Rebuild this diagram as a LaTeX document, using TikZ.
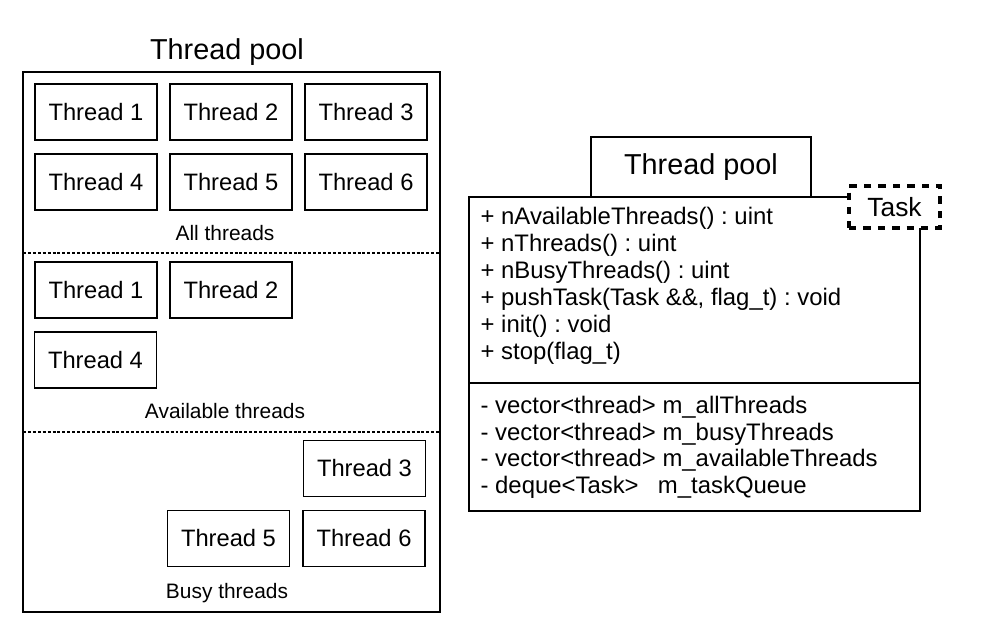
\documentclass[tikz,border=0pt]{standalone}
\usepackage{fontspec}
\setmainfont{Liberation Sans}
\usetikzlibrary{arrows.meta}
\frenchspacing

\begin{document}
\begin{tikzpicture}[x=0.02cm,y=-0.02cm,line width=0.7pt,
  threadbox/.style={draw,line width=0.7pt,minimum width=2.44cm,minimum height=1.12cm,
    inner sep=0pt,font=\fontsize{13.5}{16}\selectfont},
  grouplabel/.style={anchor=base,inner sep=0pt,font=\fontsize{11.9}{14}\selectfont},
  sep/.style={line width=0.6pt,dash pattern=on 1.7pt off 1.1pt},
  member/.style={anchor=base west,inner sep=0pt,font=\fontsize{13.6}{16}\selectfont}]
\useasboundingbox (0,0) rectangle (983,643);
% ---------- left: thread pool contents ----------
\node[anchor=base,inner sep=0pt,font=\fontsize{16.4}{20}\selectfont] (pooltitle) at (227,59) {Thread pool};
\draw[line width=1.2pt] (23,72) rectangle (440,612);
% all threads
\node[threadbox] (all1) at (96,112) {Thread 1};
\node[threadbox] (all2) at (231,112) {Thread 2};
\node[threadbox] (all3) at (366,112) {Thread 3};
\node[threadbox] (all4) at (96,182) {Thread 4};
\node[threadbox] (all5) at (231,182) {Thread 5};
\node[threadbox] (all6) at (366,182) {Thread 6};
\node[grouplabel] (alllabel) at (225,240) {All threads};
\draw[sep] (23,253) -- (440,253);
% available threads
\node[threadbox] (av1) at (96,290) {Thread 1};
\node[threadbox] (av2) at (231,290) {Thread 2};
\node[threadbox] (av4) at (95.5,360) {Thread 4};
\node[grouplabel] (avlabel) at (225,418) {Available threads};
\draw[sep] (23,432) -- (440,432);
% busy threads
\node[threadbox] (busy3) at (364.5,468.5) {Thread 3};
\node[threadbox] (busy5) at (228.5,538.5) {Thread 5};
\node[threadbox] (busy6) at (364,538.5) {Thread 6};
\node[grouplabel] (busylabel) at (227,598) {Busy threads};
% ---------- right: class box ----------
\node[draw,line width=1.2pt,minimum width=4.4cm,minimum height=1.2cm,
  font=\fontsize{16.4}{20}\selectfont] (classname) at (701,167) {Thread pool};
\draw[line width=1.2pt] (469,197) rectangle (920,511);
\draw[line width=1.2pt] (469,383) -- (920,383);
\node[draw,fill=white,line width=2pt,dash pattern=on 4.2pt off 4pt,
  minimum width=1.82cm,minimum height=0.84cm,inner sep=0pt,
  font=\fontsize{15}{18}\selectfont] (task) at (894.5,207) {Task};
% methods
\node[member] (m1) at (480,224) {+ nAvailableThreads() : uint};
\node[member] (m2) at (480,251) {+ nThreads() : uint};
\node[member] (m3) at (480,278) {+ nBusyThreads() : uint};
\node[member] (m4) at (480,305) {+ pushTask(Task \&\&, flag\_t) : void};
\node[member] (m5) at (480,332) {+ init() : void};
\node[member] (m6) at (480,359) {+ stop(flag\_t)};
% attributes
\node[member] (a1) at (480,413) {- vector<thread> m\_allThreads};
\node[member] (a2) at (480,440) {- vector<thread> m\_busyThreads};
\node[member] (a3) at (480,466) {- vector<thread> m\_availableThreads};
\node[member] (a4) at (480,493) {- deque<Task>\hspace{11pt}m\_taskQueue};
\end{tikzpicture}
\end{document}
